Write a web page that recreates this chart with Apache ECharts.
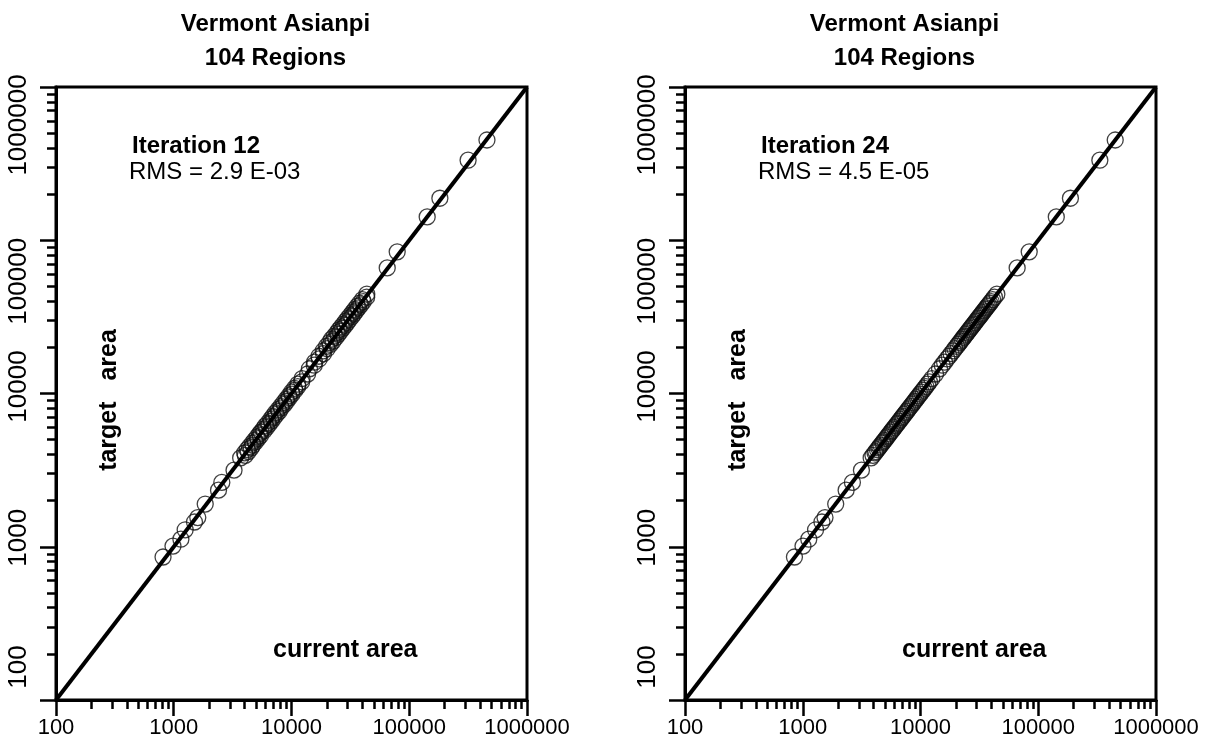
<!DOCTYPE html>
<html>
<head>
<meta charset="utf-8">
<script src="https://cdn.jsdelivr.net/npm/echarts@6/dist/echarts.min.js"></script>
<style>
html, body { margin: 0; padding: 0; background: #fff; }
#chart { width: 1209px; height: 746px; }
</style>
</head>
<body>
<div id="chart"></div>
<script>
// decade ticks and the 2..9 minor ticks of every decade
const majorTicks = [100, 1000, 10000, 100000, 1000000]
const minorTicks = []
for (let d = 100; d < 1000000; d *= 10) {
  for (let k = 2; k <= 9; k++) minorTicks.push(k * d)
}

// target area of the 104 regions
const targetArea = [
  857, 1010, 1120, 1290, 1450, 1550, 1900, 2340, 2630, 3160,
  3800, 3950, 4100, 4180, 4300, 4420, 4500, 4610, 4750, 4830, 4950, 5080, 5200, 5310, 5450, 5600,
  5720, 5850, 6000, 6150, 6300, 6420, 6600, 6780, 6950, 7100, 7300, 7480, 7650, 7850, 8050, 8250,
  8500, 8700, 8900, 9150, 9400, 9650, 9900, 10200, 10500, 10800, 11100, 11500, 11900, 12500, 13400,
  14500, 15300, 16000, 16800, 17500, 18200, 19000, 19600, 20300, 20900, 21500, 22000, 22600, 23200,
  23700, 24300, 24900, 25400, 26000, 26600, 27200, 27800, 28400, 29000, 29700, 30300, 31000, 31700,
  32400, 33100, 33800, 34600, 35400, 36200, 37000, 37900, 38800, 39800, 41000, 42500, 44500,
  66000, 84000, 142000, 188000, 333000, 451000
]

// current area after iteration 12
const current12 = [
  811, 985, 1150, 1250, 1500, 1600, 1850, 2400, 2560, 3250,
  3700, 4050, 4000, 4300, 4200, 4550, 4400, 4700, 4650, 4950, 4850, 5200, 5100, 5450, 5350, 5500,
  5850, 5750, 6150, 6000, 6450, 6300, 6750, 6650, 7100, 6950, 7450, 7300, 7850, 7700, 8200, 8100,
  8700, 8550, 9100, 9000, 9600, 9500, 10100, 10000, 10700, 10600, 11300, 11300, 12200, 12300, 13700,
  14200, 15600, 15700, 17200, 17100, 18700, 18600, 20100, 19800, 21400, 21000, 22600, 21900, 23800,
  23100, 24900, 24300, 26000, 25300, 27200, 26500, 28500, 27700, 29700, 28900, 31000, 30200, 32500,
  31600, 33900, 33000, 35400, 34500, 37000, 36100, 38800, 37800, 40700, 40000, 43500, 43600,
  65000, 79000, 142000, 182000, 316000, 457000
]

// current area after iteration 24
const current24 = [
  850, 1005, 1125, 1285, 1455, 1545, 1905, 2335, 2640, 3150,
  3810, 3945, 4105, 4175, 4310, 4415, 4505, 4600, 4760, 4825, 4960, 5070, 5210, 5305, 5460, 5590,
  5730, 5845, 6010, 6140, 6310, 6415, 6610, 6770, 6960, 7090, 7310, 7470, 7660, 7840, 8060, 8240,
  8510, 8690, 8910, 9140, 9410, 9640, 9910, 10190, 10510, 10790, 11110, 11490, 11910, 12490, 13410,
  14510, 15290, 16010, 16790, 17510, 18190, 19010, 19590, 20310, 20890, 21510, 21990, 22610, 23190,
  23710, 24290, 24910, 25390, 26010, 26590, 27210, 27790, 28410, 28990, 29710, 30290, 31010, 31690,
  32410, 33090, 33810, 34590, 35410, 36190, 37010, 37890, 38810, 39790, 41010, 42490, 44510,
  66200, 83800, 142300, 187600, 333500, 450400
]

const identityLine = [[100, 100], [1000000, 1000000]]

const FONT = '"Liberation Sans", Arial, Helvetica, sans-serif'

const panels = [
  { left: 56, iter: 'Iteration 12', rms: 'RMS = 2.9 E-03', current: current12 },
  { left: 685, iter: 'Iteration 24', rms: 'RMS = 4.5 E-05', current: current24 }
]

const PW = 471
const PH = 613
const PTOP = 87

// the y labels of the original sit a little off their ticks; padding nudges
// them along the (rotated) text direction
const yLabelRich = {
  d2: { padding: [0, 0, 0, 66] },
  d3: { padding: [0, 0, 0, 18] },
  d4: { padding: [0, 0, 0, 14] },
  d5: { padding: [0, 82, 0, 0] },
  d6: { padding: [0, 76, 0, 0] }
}

const grid = []
const xAxis = []
const yAxis = []
const series = []
const graphic = []

const fmt = v => String(Math.round(v))
const yFmt = v => '{d' + Math.round(Math.log10(v)) + '|' + Math.round(v) + '}'

panels.forEach((p, i) => {
  grid.push({
    left: p.left, top: PTOP, width: PW, height: PH,
    show: true, borderColor: '#000', borderWidth: 3, backgroundColor: 'transparent'
  })

  // major axis: line, long ticks, labels
  xAxis.push({
    type: 'log', gridIndex: i, position: 'bottom', min: 100, max: 1000000,
    axisLine: { show: true, lineStyle: { color: '#000', width: 3 } },
    axisTick: { show: true, customValues: majorTicks, length: 16, lineStyle: { color: '#000', width: 2.5 } },
    axisLabel: {
      customValues: majorTicks, formatter: fmt, margin: 17,
      color: '#000', fontSize: 22, fontFamily: FONT
    },
    splitLine: { show: false }
  })
  // minor ticks only, same side as the major ones
  xAxis.push({
    type: 'log', gridIndex: i, position: 'bottom', offset: 0, min: 100, max: 1000000,
    axisLine: { show: false },
    axisTick: { show: true, customValues: minorTicks, length: 9, lineStyle: { color: '#000', width: 2.5 } },
    axisLabel: { show: false },
    splitLine: { show: false }
  })

  yAxis.push({
    type: 'log', gridIndex: i, position: 'left', min: 100, max: 1000000,
    axisLine: { show: true, lineStyle: { color: '#000', width: 3 } },
    axisTick: { show: true, customValues: majorTicks, length: 16, lineStyle: { color: '#000', width: 2.5 } },
    axisLabel: {
      customValues: majorTicks, formatter: yFmt, rich: yLabelRich, margin: 24, rotate: 90,
      color: '#000', fontSize: 26, fontFamily: FONT
    },
    splitLine: { show: false }
  })
  yAxis.push({
    type: 'log', gridIndex: i, position: 'left', offset: 0, min: 100, max: 1000000,
    axisLine: { show: false },
    axisTick: { show: true, customValues: minorTicks, length: 9, lineStyle: { color: '#000', width: 2.5 } },
    axisLabel: { show: false },
    splitLine: { show: false }
  })

  series.push({
    type: 'line', xAxisIndex: 2 * i, yAxisIndex: 2 * i,
    data: identityLine, symbol: 'none', silent: true,
    lineStyle: { color: '#000', width: 4 }
  })
  series.push({
    type: 'scatter', xAxisIndex: 2 * i, yAxisIndex: 2 * i,
    data: p.current.map((c, j) => [c, targetArea[j]]),
    symbol: 'circle', symbolSize: 16,
    itemStyle: { color: 'rgba(0,0,0,0)', borderColor: '#111', borderWidth: 1.3 }
  })

  const cx = p.left + PW / 2 - 16
  graphic.push(
    { type: 'text', x: cx, y: 24, style: { text: 'Vermont Asianpi', font: 'bold 24px ' + FONT, fill: '#000', align: 'center', verticalAlign: 'middle' } },
    { type: 'text', x: cx, y: 58, style: { text: '104 Regions', font: 'bold 24px ' + FONT, fill: '#000', align: 'center', verticalAlign: 'middle' } },
    { type: 'text', x: p.left + 76, y: 146, style: { text: p.iter, font: 'bold 24px ' + FONT, fill: '#000', align: 'left', verticalAlign: 'middle' } },
    { type: 'text', x: p.left + 73, y: 172, style: { text: p.rms, font: '24px ' + FONT, fill: '#000', align: 'left', verticalAlign: 'middle' } },
    { type: 'text', x: p.left + 217, y: 650, style: { text: 'current area', font: 'bold 25px ' + FONT, fill: '#000', align: 'left', verticalAlign: 'middle' } },
    { type: 'text', x: p.left + 53, y: 400, rotation: Math.PI / 2, style: { text: 'target   area', font: 'bold 25px ' + FONT, fill: '#000', align: 'center', verticalAlign: 'middle' } }
  )
})

const chart = echarts.init(document.getElementById('chart'), null, { renderer: 'canvas' })
chart.setOption({
  backgroundColor: '#fff',
  animation: false,
  grid, xAxis, yAxis, series, graphic
})
</script>
</body>
</html>
